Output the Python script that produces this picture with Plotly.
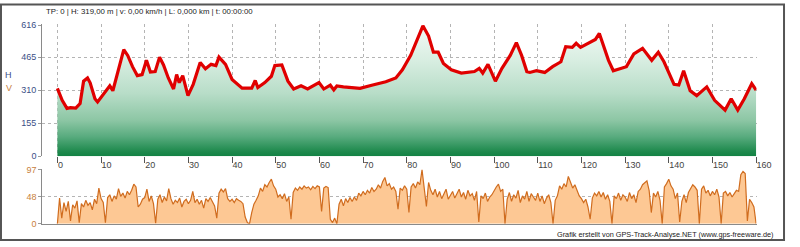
import plotly.graph_objects as go

W, H = 800, 247

# ---- elevation profile (km, m) ----
elev_km = [0, 1.1, 2.2, 3.0, 4.2, 5.2, 6.0, 6.9, 7.5, 8.6, 9.2, 10.1, 12.0, 12.7, 13.8, 14.4, 15.2,
           16.1, 17.2, 18.3, 19.4, 20.4, 21.3, 22.4, 23.4, 24.3, 25.4, 26.6, 27.3, 27.9, 28.7, 29.9,
           31.1, 32.7, 33.9, 35.2, 36.3, 37.0, 38.5, 40.0, 41.2, 42.3, 44.5, 45.3, 45.9, 47.5, 49.0,
           49.8, 51.4, 52.8, 54.1, 55.8, 57.3, 59.9, 61.0, 62.5, 63.3, 64.0, 65.5, 69.3, 72.2, 75.2,
           77.5, 79.0, 80.9, 82.4, 83.7, 85.0, 86.1, 87.2, 88.4, 90.2, 92.5, 95.5, 96.6, 97.4, 98.6,
           100.3, 101.8, 103.7, 105.1, 106.3, 107.5, 108.2, 109.7, 111.6, 113.4, 115.3, 116.4, 117.9,
           118.8, 119.8, 121.3, 122.4, 123.2, 124.1, 125.1, 126.2, 127.3, 128.8, 130.3, 132.0, 134.0,
           136.1, 137.6, 138.9, 141.2, 142.3, 143.4, 144.9, 146.4, 148.7, 150.5, 152.9, 154.3, 155.8,
           157.3, 159.0, 160.0]
elev_m = [319, 263, 225, 228, 226, 248, 353, 368, 345, 270, 255, 278, 331, 308, 391, 444, 501,
          474, 421, 379, 384, 451, 396, 398, 466, 429, 368, 316, 384, 346, 379, 285,
          338, 441, 411, 432, 426, 466, 432, 361, 338, 320, 320, 356, 323, 346, 376,
          426, 429, 353, 316, 331, 316, 346, 316, 334, 312, 330, 326, 319, 335, 350,
          368, 406, 474, 549, 613, 565, 489, 489, 436, 406, 391, 398, 413, 391, 432,
          353, 413, 474, 534, 474, 398, 394, 402, 394, 421, 444, 515, 512,
          531, 512, 527, 542, 549, 577, 519, 451, 402, 413, 421, 481, 507,
          451, 489, 444, 338, 335, 402, 308, 285, 326, 263, 217, 270, 217,
          270, 341, 311]

# ---- speed (km/h) every 0.5 km ----
speed_km = [i * 0.5 for i in range(321)]
speed_v = [
    0, 46, 10, 38, 22, 40, 5, 34, 28, 41, 2, 36, 30, 42, 33, 38, 25, 44, 36, 64,
    45, 38, 2, 47, 52, 40, 50, 44, 63, 49, 55, 46, 58, 52, 60, 71, 66, 30, 35, 44,
    47, 62, 40, 50, 36, 1, 44, 52, 38, 48, 41, 63, 45, 35, 42, 38, 46, 30, 40, 44,
    36, 42, 58, 38, 44, 35, 42, 28, 45, 40, 47, 38, 32, 10, 55, 62, 57, 63, 45, 40,
    44, 38, 45, 42, 40, 36, 12, 2, 0, 20, 35, 42, 50, 64, 58, 70, 66, 74, 80, 68,
    62, 48, 52, 45, 54, 40, 48, 8, 56, 64, 60, 66, 62, 68, 64, 66, 61, 67, 63, 68,
    66, 22, 64, 67, 65, 8, 2, 10, 0, 35, 44, 32, 45, 38, 47, 40, 48, 42, 55, 50,
    58, 52, 60, 55, 65, 58, 62, 70, 64, 76, 83, 68, 72, 62, 66, 58, 26, 64, 60, 68,
    62, 20, 66, 72, 64, 75, 70, 97, 68, 31, 74, 60, 52, 62, 48, 58, 45, 54, 62, 44,
    50, 58, 46, 55, 62, 48, 56, 44, 60, 50, 54, 42, 58, 3, 50, 45, 55, 40, 48, 52,
    60, 66, 71, 58, 62, 0, 44, 56, 40, 52, 46, 60, 38, 50, 44, 58, 40, 54, 48, 42,
    55, 40, 50, 36, 46, 52, 38, 0, 42, 50, 68, 62, 72, 66, 85, 74, 64, 70, 60, 50,
    45, 38, 44, 30, 8, 46, 55, 50, 58, 48, 56, 44, 52, 40, 0, 50, 45, 55, 42, 52,
    48, 40, 56, 45, 52, 38, 58, 62, 70, 74, 77, 60, 20, 55, 48, 58, 42, 0, 66, 72,
    80, 68, 62, 45, 55, 3, 40, 52, 38, 56, 64, 70, 66, 60, 0, 62, 68, 55, 60, 50,
    58, 52, 62, 48, 0, 55, 58, 50, 56, 48, 54, 60, 58, 88, 94, 90, 5, 44, 38, 30,
    0]

x_ticks = list(range(0, 161, 10))
elev_ticks = [0, 155, 310, 465, 616]
speed_ticks = [0, 48, 97]

header_text = "TP: 0 | H: 319,00 m | v: 0,00 km/h | L: 0,000 km | t: 00:00:00"
footer_text = "Grafik erstellt von GPS-Track-Analyse.NET (www.gps-freeware.de)"


def px_x(p):
    return p / W


def px_y(p):
    return 1 - p / H


FONT = "Liberation Sans, Arial, sans-serif"
GRID = "#b4b4b4"

fig = go.Figure()

fig.add_trace(go.Scatter(
    x=elev_km, y=elev_m, mode="lines",
    line=dict(color="#e00000", width=3.2),
    fill="tozeroy",
    fillgradient=dict(type="vertical", start=0, stop=616,
                      colorscale=[[0, "#077a3b"], [0.07, "#1d894c"], [0.18, "#58ab7e"],
                                  [0.3, "#8cc6a4"], [0.5, "#b8ddc8"], [0.75, "#d9eee2"],
                                  [1, "#f3faf6"]]),
    xaxis="x", yaxis="y", hoverinfo="skip", showlegend=False))

fig.add_trace(go.Scatter(
    x=speed_km, y=speed_v, mode="lines",
    line=dict(color="#d06c1e", width=1.2),
    fill="tozeroy", fillcolor="#fdc894",
    xaxis="x2", yaxis="y2", hoverinfo="skip", showlegend=False))

xdom = [px_x(43), px_x(771)]
xrange_ = [-3.48, 160.1]

fig.update_layout(
    width=W, height=H,
    margin=dict(l=0, r=0, t=0, b=0),
    paper_bgcolor="white", plot_bgcolor="white",
    font=dict(family=FONT, size=9, color="#333"),
    xaxis=dict(domain=xdom, range=xrange_, tickvals=x_ticks,
               ticktext=[str(v) for v in x_ticks],
               ticks="outside", ticklen=6, tickcolor="#555", tickwidth=1,
               ticklabelposition="outside right",
               tickfont=dict(size=9, color="#444"),
               showgrid=True, gridcolor=GRID, griddash="dot", gridwidth=1,
               zeroline=False, showline=False, anchor="y"),
    yaxis=dict(domain=[px_y(158), px_y(21)], range=[0, 620.5],
               tickvals=elev_ticks, ticktext=[str(v) for v in elev_ticks],
               tickfont=dict(size=9, color="#3b4f86"),
               ticks="outside", ticklen=3, tickcolor="#999",
               showgrid=True, gridcolor=GRID, griddash="dot",
               zeroline=False, showline=True, linecolor="#8a8a8a", linewidth=1,
               anchor="x"),
    xaxis2=dict(domain=xdom, range=xrange_, showticklabels=False, ticks="",
                showgrid=False, zeroline=False, showline=True, linecolor="#8a8a8a",
                linewidth=1, anchor="y2"),
    yaxis2=dict(domain=[px_y(228), px_y(171)], range=[0, 98.7],
                tickvals=speed_ticks, ticktext=[str(v) for v in speed_ticks],
                tickfont=dict(size=9, color="#c8803c"),
                ticks="outside", ticklen=3, tickcolor="#999",
                showgrid=True, gridcolor=GRID, griddash="dot",
                zeroline=False, showline=True, linecolor="#8a8a8a", linewidth=1,
                anchor="x2"),
    shapes=[dict(type="rect", xref="paper", yref="paper",
                 x0=px_x(1), x1=px_x(799), y0=px_y(245), y1=px_y(0.5),
                 line=dict(color="#555", width=2), fillcolor="rgba(0,0,0,0)",
                 layer="above")],
    annotations=[
        dict(text=header_text, xref="paper", yref="paper", x=px_x(45), y=px_y(8),
             xanchor="left", yanchor="middle", showarrow=False,
             font=dict(size=7.8, color="#222")),
        dict(text=footer_text, xref="paper", yref="paper", x=px_x(791), y=px_y(239),
             xanchor="right", yanchor="middle", showarrow=False,
             font=dict(size=7.3, color="#222")),
        dict(text="H", xref="paper", yref="paper", x=px_x(9), y=px_y(74),
             xanchor="center", yanchor="middle", showarrow=False,
             font=dict(size=9, color="#3b4f86")),
        dict(text="V", xref="paper", yref="paper", x=px_x(9), y=px_y(87),
             xanchor="center", yanchor="middle", showarrow=False,
             font=dict(size=9, color="#c8803c")),
    ],
)

fig.write_html("out.html")
